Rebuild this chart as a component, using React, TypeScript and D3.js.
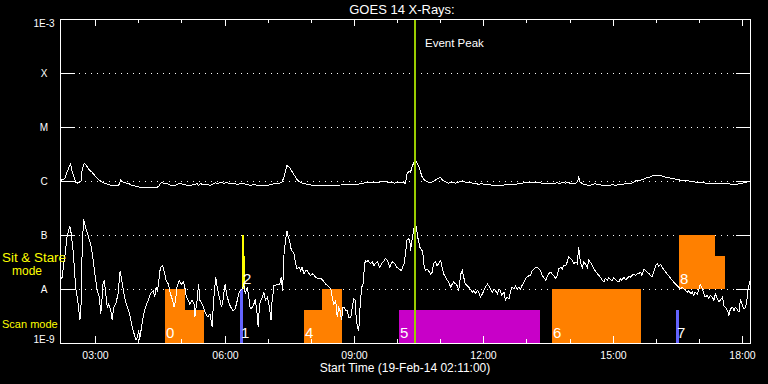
import React from "react";
import * as d3 from "d3";

const DAY = [2014, 1, 19];
const START_TIME = "02:11";
const END_TIME = "18:11";
const TITLE = "GOES 14 X-Rays:";
const X_TITLE = "Start Time (19-Feb-14 02:11:00)";
const EVENT_PEAK = "10:24";
const EVENT_LABEL = "Event Peak";

const yTickValues = [1e-9, 1e-8, 1e-7, 1e-6, 1e-5, 1e-4, 1e-3];
const yTickLabels = ["1E-9", "A", "B", "C", "M", "X", "1E-3"];

// long channel (1-8 Å): [minutes after start, log10 flux W/m²]
const longChannel: [number, number][] = [
  [0, -5.98], [2, -5.97], [6, -5.95], [8, -5.86], [12, -5.73], [14, -5.67], [16, -5.8], [19, -5.92],
  [21, -6.01], [24, -6.03], [27, -6.01], [29, -5.98], [30, -5.8], [32, -5.7], [33, -5.66], [36, -5.7],
  [39, -5.77], [44, -5.83], [49, -5.91], [53, -5.97], [58, -6.01], [63, -6.04], [67, -6.06], [74, -6.08],
  [81, -6.07], [84, -5.97], [87, -6.01], [90, -6.02], [93, -6.04], [95, -6.03], [97, -6.06], [102, -6.08],
  [107, -6.09], [111, -6.11], [118, -6.12], [125, -6.12], [132, -6.12], [137, -6.09], [139, -6.03],
  [141, -6.02], [145, -6.04], [148, -6.04], [153, -6.07], [158, -6.08], [162, -6.06], [165, -6.03],
  [168, -6.04], [172, -6.06], [176, -6.07], [181, -6.07], [186, -6.06], [190, -6.04], [192, -6.07],
  [195, -6.04], [199, -6.06], [204, -6.06], [209, -6.07], [213, -6.04], [216, -6.02], [218, -6.04],
  [220, -6.03], [225, -6.02], [227, -6.04], [230, -6.02], [234, -6.03], [239, -6.04], [241, -6.03],
  [246, -6.06], [250, -6.04], [253, -6.03], [255, -6.04], [260, -6.06], [264, -6.07], [269, -6.06],
  [274, -6.07], [278, -6.08], [283, -6.07], [288, -6.07], [292, -6.06], [297, -6.04], [301, -6.03],
  [304, -6.04], [308, -6.01], [311, -5.92], [313, -5.8], [315, -5.7], [319, -5.75], [322, -5.81],
  [327, -5.92], [330, -5.98], [334, -6.02], [339, -6.04], [346, -6.06], [352, -6.07], [362, -6.08],
  [371, -6.08], [378, -6.07], [385, -6.07], [394, -6.06], [403, -6.06], [410, -6.06], [417, -6.04],
  [422, -6.03], [427, -6.01], [431, -6.01], [436, -6.02], [441, -6.02], [445, -6.01], [450, -5.99],
  [455, -6.01], [459, -6.01], [464, -6.03], [468, -6.02], [473, -6.02], [480, -6.03], [482, -5.86],
  [485, -5.81], [487, -5.83], [489, -5.73], [492, -5.64], [494, -5.61], [496, -5.66], [499, -5.73],
  [501, -5.83], [503, -5.91], [506, -5.97], [508, -5.99], [512, -6.01], [517, -6.01], [522, -5.97],
  [526, -5.94], [529, -5.92], [531, -5.97], [536, -6.01], [540, -6.03], [545, -6.02], [550, -6.03],
  [554, -6.01], [559, -5.99], [563, -6.01], [568, -6.02], [573, -6.03], [577, -6.04], [582, -6.05],
  [587, -6.04], [591, -6.06], [596, -6.06], [601, -6.07], [605, -6.07], [610, -6.07], [615, -6.07],
  [619, -6.06], [624, -6.06], [628, -6.06], [633, -6.05], [638, -6.04], [642, -6.03], [647, -6.02],
  [652, -6.01], [656, -6.01], [661, -6.02], [666, -6.02], [670, -6.03], [675, -6.03], [679, -6.03],
  [684, -6.03], [689, -6.03], [691, -6.02], [693, -6.04], [696, -6.03], [698, -6.02], [703, -6.03],
  [707, -6.02], [710, -6.04], [712, -6.03], [717, -6.03], [719, -6.01], [721, -5.92], [723, -6.01],
  [726, -6.04], [730, -6.06], [735, -6.07], [740, -6.06], [744, -6.04], [749, -6.06], [754, -6.07],
  [758, -6.08], [763, -6.07], [768, -6.06], [772, -6.07], [777, -6.06], [781, -6.06], [786, -6.04],
  [791, -6.04], [795, -6.03], [800, -5.99], [805, -5.98], [809, -5.97], [814, -5.94], [819, -5.92],
  [823, -5.9], [828, -5.88], [832, -5.88], [837, -5.9], [842, -5.92], [846, -5.93], [851, -5.94],
  [856, -5.96], [860, -5.97], [865, -5.98], [870, -5.98], [874, -5.99], [879, -6.0], [883, -6.01],
  [888, -6.01], [893, -6.02], [897, -6.03], [907, -6.03], [916, -6.04], [925, -6.04], [935, -6.05],
  [939, -6.06], [944, -6.04], [948, -6.03], [953, -6.02], [958, -6.0], [960, -5.99],
];

// short channel (0.5-4 Å): [minutes after start, log10 flux W/m²]
const shortChannel: [number, number][] = [
  [0, -7.77], [2, -7.8], [7, -7.28], [9, -7.03], [13, -6.83], [15, -6.97], [18, -7.34], [21, -7.96],
  [24, -8.2], [27, -8.57], [29, -8.2], [30, -7.34], [32, -6.7], [35, -6.85], [39, -7.03], [43, -7.22],
  [46, -7.52], [49, -7.83], [51, -8.02], [54, -8.14], [56, -8.45], [58, -8.14], [59, -7.9], [61, -7.83],
  [63, -8.08], [65, -8.33], [67, -8.27], [70, -8.39], [72, -8.57], [74, -8.33], [77, -8.27], [80, -8.08],
  [83, -7.65], [86, -7.9], [89, -8.14], [93, -8.33], [95, -8.39], [97, -8.51], [100, -8.7], [103, -8.85],
  [105, -8.94], [107, -8.88], [109, -8.76], [110, -8.94], [112, -8.76], [115, -8.51], [118, -8.33],
  [120, -8.27], [122, -8.2], [125, -8.08], [129, -8.02], [131, -8.14], [133, -7.96], [135, -8.02],
  [139, -7.59], [142, -7.56], [145, -7.71], [147, -7.83], [150, -7.9], [153, -8.08], [156, -8.2],
  [158, -8.33], [160, -8.2], [162, -7.96], [165, -7.83], [168, -7.9], [171, -7.86], [173, -7.96],
  [175, -8.14], [178, -8.2], [180, -8.27], [183, -8.2], [186, -8.27], [187, -8.51], [190, -8.2],
  [192, -7.9], [194, -8.2], [197, -8.27], [199, -8.33], [202, -8.45], [205, -8.51], [208, -8.45],
  [211, -8.7], [213, -8.2], [216, -7.77], [218, -7.96], [221, -8.14], [224, -8.33], [226, -8.2],
  [229, -7.9], [232, -8.14], [235, -8.27], [237, -8.33], [240, -8.39], [243, -8.36], [246, -8.2],
  [248, -8.08], [250, -8.02], [253, -7.99], [255, -7.9], [257, -8.08], [260, -7.96], [262, -8.14],
  [264, -8.36], [267, -8.33], [269, -8.27], [271, -8.17], [274, -8.51], [275, -8.7], [277, -8.27],
  [279, -8.2], [281, -8.14], [283, -8.05], [285, -8.2], [288, -8.14], [290, -8.27], [293, -8.57],
  [294, -8.27], [297, -7.93], [299, -7.93], [301, -7.9], [305, -7.9], [307, -7.77], [309, -8.02],
  [311, -7.34], [313, -7.09], [315, -6.91], [317, -7.03], [319, -7.09], [320, -7.22], [322, -7.28],
  [325, -7.34], [327, -7.52], [329, -7.62], [332, -7.59], [334, -7.65], [336, -7.59], [339, -7.71],
  [341, -7.65], [343, -7.65], [346, -7.71], [348, -7.74], [351, -7.71], [355, -7.77], [359, -7.8],
  [363, -7.8], [365, -7.83], [369, -7.9], [372, -7.93], [376, -7.99], [378, -8.14], [380, -8.27],
  [383, -8.2], [384, -8.39], [385, -8.51], [387, -8.33], [389, -8.39], [391, -8.57], [393, -8.33],
  [395, -8.33], [397, -8.39], [399, -8.39], [401, -8.51], [404, -8.51], [406, -8.33], [408, -8.17],
  [410, -8.2], [411, -8.45], [413, -8.7], [415, -8.76], [417, -8.27], [419, -7.96], [421, -7.9],
  [422, -7.71], [424, -7.46], [426, -7.49], [428, -7.46], [431, -7.52], [434, -7.49], [436, -7.56],
  [438, -7.52], [441, -7.49], [444, -7.59], [447, -7.52], [449, -7.49], [452, -7.43], [455, -7.46],
  [458, -7.59], [460, -7.52], [462, -7.49], [465, -7.52], [468, -7.59], [471, -7.62], [474, -7.65],
  [475, -7.62], [478, -7.52], [480, -7.34], [482, -7.09], [484, -7.06], [486, -7.09], [487, -7.28],
  [489, -7.09], [492, -6.85], [493, -6.75], [495, -6.85], [497, -7.03], [500, -7.22], [503, -7.28],
  [505, -7.4], [506, -7.59], [508, -7.65], [510, -7.62], [512, -7.65], [515, -7.71], [517, -7.68],
  [519, -7.52], [522, -7.49], [524, -7.56], [526, -7.52], [529, -7.46], [531, -7.59], [533, -7.71],
  [536, -7.77], [538, -7.83], [540, -7.86], [543, -7.96], [545, -7.9], [547, -7.86], [550, -7.9],
  [552, -7.93], [554, -8.02], [557, -7.71], [559, -7.65], [561, -7.77], [563, -7.9], [566, -7.93],
  [568, -7.96], [570, -7.99], [573, -8.05], [575, -8.02], [577, -8.08], [580, -8.02], [582, -8.05],
  [584, -8.14], [587, -8.08], [589, -8.02], [591, -7.96], [594, -7.9], [596, -7.93], [598, -7.99],
  [601, -8.05], [603, -7.99], [605, -8.02], [608, -8.08], [610, -7.99], [612, -8.02], [614, -8.11],
  [617, -8.05], [619, -8.2], [621, -8.14], [624, -8.17], [626, -8.05], [628, -7.96], [631, -7.99],
  [633, -7.93], [635, -7.99], [638, -7.96], [640, -7.99], [642, -7.93], [645, -7.86], [647, -7.8],
  [649, -7.77], [652, -7.74], [654, -7.74], [656, -7.65], [659, -7.62], [661, -7.59], [663, -7.59],
  [666, -7.62], [668, -7.65], [670, -7.74], [672, -7.77], [675, -7.83], [677, -7.77], [679, -7.71],
  [682, -7.68], [684, -7.71], [686, -7.74], [689, -7.8], [691, -7.74], [693, -7.62], [696, -7.59],
  [698, -7.62], [700, -7.56], [703, -7.56], [705, -7.49], [707, -7.4], [710, -7.43], [712, -7.46],
  [714, -7.52], [717, -7.49], [719, -7.52], [721, -7.22], [723, -7.46], [724, -7.52], [726, -7.59],
  [728, -7.49], [730, -7.52], [733, -7.59], [735, -7.46], [737, -7.49], [740, -7.56], [742, -7.62],
  [744, -7.65], [747, -7.71], [749, -7.74], [751, -7.77], [754, -7.83], [756, -7.86], [758, -7.8],
  [761, -7.83], [763, -7.78], [765, -7.82], [768, -7.83], [770, -7.78], [772, -7.82], [774, -7.84],
  [777, -7.86], [779, -7.8], [781, -7.83], [784, -7.77], [786, -7.82], [788, -7.8], [791, -7.76],
  [793, -7.77], [795, -7.74], [798, -7.71], [800, -7.74], [802, -7.71], [805, -7.7], [807, -7.68],
  [809, -7.74], [812, -7.62], [814, -7.65], [816, -7.68], [819, -7.71], [821, -7.74], [823, -7.77],
  [826, -7.65], [828, -7.56], [830, -7.52], [832, -7.57], [835, -7.54], [837, -7.59], [839, -7.62],
  [842, -7.68], [844, -7.71], [846, -7.74], [849, -7.8], [851, -7.83], [853, -7.86], [856, -7.9],
  [858, -7.93], [860, -7.96], [863, -7.99], [865, -7.96], [867, -7.99], [870, -8.02], [872, -8.05],
  [874, -8.02], [877, -8.08], [879, -8.05], [881, -8.11], [883, -8.05], [886, -8.08], [888, -8.02],
  [890, -7.9], [893, -7.99], [895, -8.08], [897, -8.14], [900, -8.11], [902, -8.17], [904, -8.11],
  [907, -8.14], [909, -8.2], [911, -8.08], [914, -8.17], [916, -8.23], [918, -8.2], [921, -8.14],
  [923, -8.3], [925, -8.33], [928, -8.39], [930, -8.48], [932, -8.36], [935, -8.33], [937, -8.39],
  [939, -8.33], [941, -8.36], [944, -8.42], [946, -8.17], [948, -8.27], [951, -8.36], [953, -8.33],
  [955, -8.2], [957, -7.96], [959, -7.86], [960, -7.9],
];

// observation blocks (IRIS-style timeline)
const obsLabels = ["0", "1", "2", "4", "5", "6", "7", "8"];
const obsModes = ["scan", "scan", "sit", "scan", "scan", "scan", "scan", "sit"];
const obsSegments: [string, string, number][][] = [
  [["04:37", "05:05", 1], ["05:05", "05:31", 0.61]],
  [["06:21", "06:25", 1]],
  [["06:24", "06:27", 1], ["06:27", "06:29", 0.61]],
  [["07:50", "08:16", 0.61], ["08:16", "08:44", 1]],
  [["10:03", "13:19", 0.61]],
  [["13:35", "15:39", 1]],
  [["16:28", "16:32", 0.61]],
  [["16:32", "17:22", 1], ["17:22", "17:36", 0.61]],
];
const obsColors = ["#ff8000", "#6464ff", "#ffff00", "#ff8000", "#c800c8", "#ff8000", "#6464ff", "#ff8000"];
const modeBaseLog: Record<string, number> = { scan: -9, sit: -8 };

const FONT = "'Liberation Sans', Arial, sans-serif";

function hm(s: string): Date {
  const [h, m] = s.split(":").map(Number);
  return new Date(Date.UTC(DAY[0], DAY[1], DAY[2], h, m));
}

export default function App() {
  const W = 768, H = 384;
  const L = 60, R = 750, T = 19, B = 343;
  const start = hm(START_TIME);
  const end = hm(END_TIME);
  const x = d3.scaleUtc().domain([start, end]).range([L, R]);
  const y = d3.scaleLog().domain([1e-9, 1e-3]).range([B, T]);

  const tOf = (m: number) => new Date(start.getTime() + m * 60000);
  const line = d3
    .line<[number, number]>()
    .x((d) => x(tOf(d[0])) + 0.5)
    .y((d) => y(Math.pow(10, d[1])) + 0.5);

  const majorTicks = x.ticks(d3.utcHour.every(3) as any);
  const minorTicks = x.ticks(d3.utcHour.every(1) as any).filter((t) => t.getUTCHours() % 3 !== 0);
  const fmt = d3.utcFormat("%H:%M");

  const gridVals = yTickValues.slice(1, -1);
  const evX = Math.round(x(hm(EVENT_PEAK)));

  return (
    <svg width={W} height={H} style={{ position: "absolute", left: 0, top: 0, display: "block" }}>
      <defs>
        <clipPath id="plotclip">
          <rect x={L} y={T} width={R - L + 1} height={B - T + 1} />
        </clipPath>
      </defs>
      <rect x={0} y={0} width={W} height={H} fill="#000" />

      {/* grid */}
      {gridVals.map((v, i) => {
        const yy = Math.round(y(v)) + 0.5;
        return (
          <g key={"g" + i} shapeRendering="crispEdges">
            <line x1={L} x2={L + 15} y1={yy} y2={yy} stroke="#fff" />
            <line x1={R - 14} x2={R} y1={yy} y2={yy} stroke="#fff" />
            <line x1={L + 19} x2={R - 15} y1={yy} y2={yy} stroke="#fff" strokeDasharray="1 5" />
          </g>
        );
      })}

      {/* observation blocks */}
      {obsSegments.map((segs, i) =>
        segs.map((s, j) => {
          const base = modeBaseLog[obsModes[i]];
          const x0 = Math.round(x(hm(s[0])));
          const x1 = Math.round(x(hm(s[1])));
          const y0 = Math.round(y(Math.pow(10, base + s[2])));
          const y1 = Math.round(y(Math.pow(10, base)));
          return (
            <rect key={"o" + i + "_" + j} x={x0} y={y0} width={Math.max(1, x1 - x0)} height={y1 - y0} fill={obsColors[i]} shapeRendering="crispEdges" />
          );
        })
      )}
      {obsSegments.map((segs, i) => {
        const base = modeBaseLog[obsModes[i]];
        const x0 = Math.round(x(hm(segs[0][0])));
        const yb = Math.round(y(Math.pow(10, base))) - 5;
        return (
          <text key={"ol" + i} x={x0 + 1} y={yb} fill="#fff" fontFamily={FONT} fontSize={15}>
            {obsLabels[i]}
          </text>
        );
      })}

      {/* curves */}
      <g clipPath="url(#plotclip)">
        <path d={line(longChannel) || ""} fill="none" stroke="#fff" strokeWidth={1} shapeRendering="crispEdges" />
        <path d={line(shortChannel) || ""} fill="none" stroke="#fff" strokeWidth={1} shapeRendering="crispEdges" />
      </g>

      {/* event peak */}
      <rect x={evX} y={T} width={2} height={B - T + 1} fill="#9acd00" shapeRendering="crispEdges" />
      <text x={evX + 11} y={47} fill="#fff" fontFamily={FONT} fontSize={11.5}>
        {EVENT_LABEL}
      </text>

      {/* frame */}
      <rect x={L + 0.5} y={T + 0.5} width={R - L} height={B - T} fill="none" stroke="#fff" shapeRendering="crispEdges" />

      {/* x ticks */}
      {majorTicks.map((t, i) => {
        const xx = Math.round(x(t)) + 0.5;
        return (
          <g key={"mt" + i} shapeRendering="crispEdges">
            <line x1={xx} x2={xx} y1={B} y2={B - 7} stroke="#fff" />
            <line x1={xx} x2={xx} y1={T} y2={T + 7} stroke="#fff" />
            <text x={xx} y={359} fill="#fff" fontFamily={FONT} fontSize={10.5} textAnchor="middle">
              {fmt(t)}
            </text>
          </g>
        );
      })}
      {minorTicks.map((t, i) => {
        const xx = Math.round(x(t)) + 0.5;
        return (
          <g key={"nt" + i} shapeRendering="crispEdges">
            <line x1={xx} x2={xx} y1={B} y2={B - 4} stroke="#fff" />
            <line x1={xx} x2={xx} y1={T} y2={T + 4} stroke="#fff" />
          </g>
        );
      })}

      {/* y labels */}
      {yTickValues.map((v, i) => {
        const yy = Math.round(y(v));
        let by = yy + 4;
        if (i === 0) by = yy;
        if (i === yTickValues.length - 1) by = yy + 8;
        return (
          <text key={"yl" + i} x={44} y={by} fill="#fff" fontFamily={FONT} fontSize={10} textAnchor="middle">
            {yTickLabels[i]}
          </text>
        );
      })}

      {/* titles */}
      <text x={402} y={14} fill="#fff" fontFamily={FONT} fontSize={13} textAnchor="middle">
        {TITLE}
      </text>
      <text x={405} y={371.5} fill="#fff" fontFamily={FONT} fontSize={12} textAnchor="middle">
        {X_TITLE}
      </text>

      {/* mode labels */}
      <text x={2} y={262} fill="#ffff00" fontFamily={FONT} fontSize={12} textLength={64} lengthAdjust="spacingAndGlyphs">
        Sit &amp; Stare
      </text>
      <text x={12} y={275} fill="#ffff00" fontFamily={FONT} fontSize={12}>
        mode
      </text>
      <text x={2} y={328} fill="#ffff00" fontFamily={FONT} fontSize={11}>
        Scan mode
      </text>
    </svg>
  );
}
